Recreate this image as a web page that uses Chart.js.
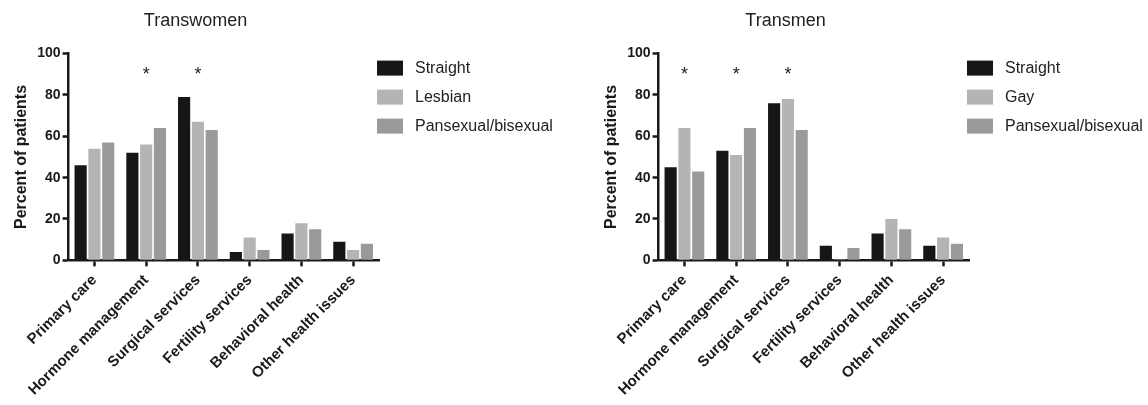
<!DOCTYPE html>
<html>
<head>
<meta charset="utf-8">
<script src="https://cdn.jsdelivr.net/npm/chart.js@4.4.0/dist/chart.umd.min.js"></script>
<style>
  html, body { margin: 0; padding: 0; background: #fff; }
  #wrap { position: relative; width: 1148px; height: 405px; }
  .panel { position: absolute; top: 0; width: 558px; height: 405px; }
</style>
</head>
<body>
<div id="wrap">
  <div class="panel" style="left:0"><canvas id="chartWomen" width="558" height="405"></canvas></div>
  <div class="panel" style="left:590px"><canvas id="chartMen" width="558" height="405"></canvas></div>
</div>
<script>
// Data
const categories = ['Primary care', 'Hormone management', 'Surgical services',
  'Fertility services', 'Behavioral health', 'Other health issues'];
const yTicks = [0, 20, 40, 60, 80, 100];

const womenStraight = [46, 52, 79, 4, 13, 9];
const womenLesbian = [54, 56, 67, 11, 18, 5];
const womenPansexual = [57, 64, 63, 5, 15, 8];
const womenStars = ['', '*', '*', '', '', ''];

const menStraight = [45, 53, 76, 7, 13, 7];
const menGay = [64, 51, 78, 0.5, 20, 11];
const menPansexual = [43, 64, 63, 6, 15, 8];
const menStars = ['*', '*', '*', '', '', ''];

// Colors
const colors = { straight: '#161616', light: '#b4b4b4', mid: '#9a9a9a' };
const fontFamily = "'Liberation Sans', Arial, Helvetica, sans-serif";
const ink = '#1a1a1a';

// Legend drawn beside the plot
const sideLegend = {
  id: 'sideLegend',
  afterDraw(chart) {
    const { ctx, chartArea } = chart;
    ctx.save();
    ctx.font = '16px ' + fontFamily;
    ctx.textBaseline = 'middle';
    chart.data.datasets.forEach((ds, i) => {
      const x = chartArea.right - 2;
      const y = chartArea.top + 7 + i * 29;
      ctx.fillStyle = ds.backgroundColor;
      ctx.fillRect(x, y, 26, 15);
      ctx.fillStyle = '#222';
      ctx.fillText(ds.label, x + 38, y + 8);
    });
    ctx.restore();
  }
};

// Significance asterisks above groups
const starMarks = {
  id: 'starMarks',
  afterDatasetsDraw(chart, args, opts) {
    const { ctx, scales } = chart;
    ctx.save();
    ctx.font = '18px ' + fontFamily;
    ctx.textAlign = 'center';
    ctx.textBaseline = 'middle';
    ctx.fillStyle = '#222';
    opts.marks.forEach((m, i) => {
      if (m) ctx.fillText(m, scales.x.getPixelForValue(i), scales.y.getPixelForValue(opts.level) + 3);
    });
    ctx.restore();
  }
};

function createGroupChart(canvasId, title, series, stars) {
  const ctx = document.getElementById(canvasId);
  return new Chart(ctx, {
    type: 'bar',
    data: {
      labels: categories,
      datasets: series.map(s => ({
        label: s.label,
        data: s.data,
        backgroundColor: s.color,
        borderWidth: 0,
        categoryPercentage: 0.8,
        barPercentage: 0.88
      }))
    },
    options: {
      responsive: false,
      animation: false,
      layout: { padding: { left: 12, right: 179, top: 0, bottom: 1 } },
      scales: {
        x: {
          grid: { display: true, drawOnChartArea: false, offset: false, tickLength: 6, tickWidth: 2.5, tickColor: ink },
          border: { display: true, color: ink, width: 2.5 },
          ticks: {
            color: ink,
            maxRotation: 45, minRotation: 45,
            padding: 5,
            font: { size: 15, weight: 'bold', family: fontFamily }
          }
        },
        y: {
          min: 0, max: 100,
          afterBuildTicks: axis => { axis.ticks = yTicks.map(v => ({ value: v })); },
          grid: { display: true, drawOnChartArea: false, tickLength: 6, tickWidth: 2.5, tickColor: ink },
          border: { display: true, color: ink, width: 2.5 },
          ticks: {
            color: ink,
            padding: 2,
            font: { size: 14, weight: 'bold', family: fontFamily }
          },
          title: {
            display: true,
            text: 'Percent of patients',
            color: ink,
            padding: { top: 0, bottom: 4 },
            font: { size: 16, weight: 'bold', family: fontFamily }
          }
        }
      },
      plugins: {
        legend: { display: false },
        tooltip: { enabled: false },
        title: {
          display: true,
          text: title,
          color: '#222',
          padding: { top: 10, bottom: 22 },
          font: { size: 18, weight: 'normal', family: fontFamily }
        },
        starMarks: { marks: stars, level: 91 }
      }
    },
    plugins: [sideLegend, starMarks]
  });
}

createGroupChart('chartWomen', 'Transwomen', [
  { label: 'Straight', data: womenStraight, color: colors.straight },
  { label: 'Lesbian', data: womenLesbian, color: colors.light },
  { label: 'Pansexual/bisexual', data: womenPansexual, color: colors.mid }
], womenStars);

createGroupChart('chartMen', 'Transmen', [
  { label: 'Straight', data: menStraight, color: colors.straight },
  { label: 'Gay', data: menGay, color: colors.light },
  { label: 'Pansexual/bisexual', data: menPansexual, color: colors.mid }
], menStars);
</script>
</body>
</html>
